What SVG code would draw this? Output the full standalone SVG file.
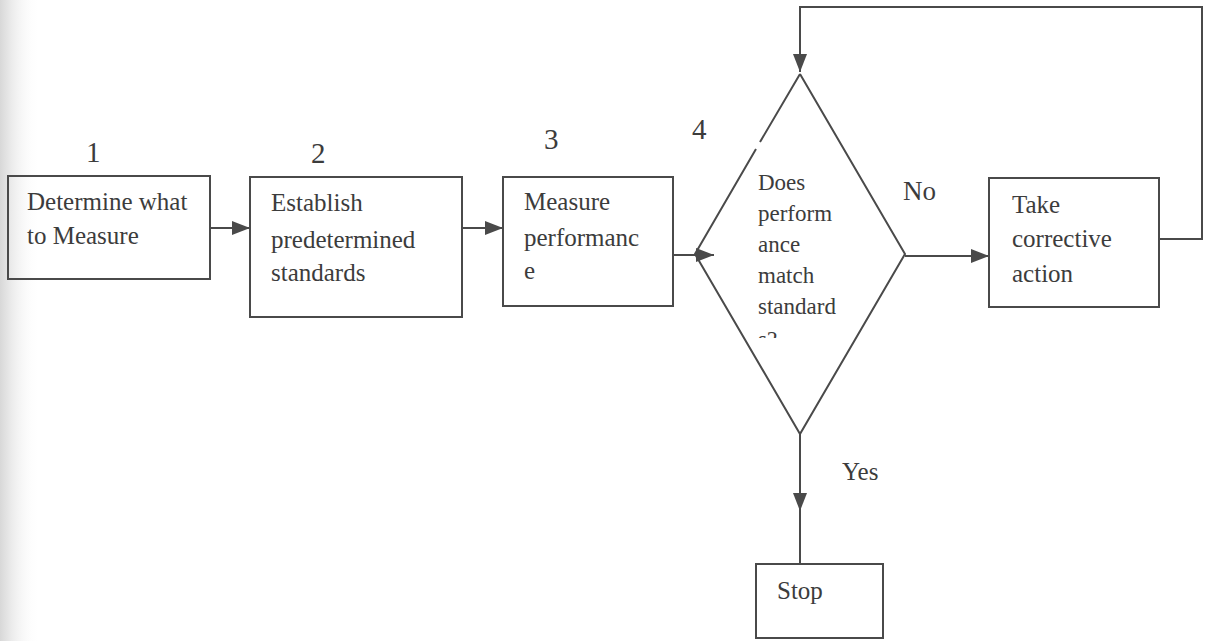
<svg xmlns="http://www.w3.org/2000/svg" width="1208" height="641" viewBox="0 0 1208 641">
<style>
.box{fill:none;stroke:#4a4a4a;stroke-width:2}
.ln{fill:none;stroke:#4a4a4a;stroke-width:2}
.t{font-family:"Liberation Serif","Times New Roman",serif;font-size:25px;fill:#3c3c3c}
.s{font-family:"Liberation Serif","Times New Roman",serif;font-size:23px;fill:#3c3c3c}
.n{font-family:"Liberation Serif","Times New Roman",serif;font-size:29px;fill:#3c3c3c}
</style>
<defs>
<marker id="ahL" viewBox="0 0 10 10" refX="10" refY="5" markerWidth="18" markerHeight="14" markerUnits="userSpaceOnUse" orient="auto" preserveAspectRatio="none">
<path d="M0,0 L10,5 L0,10 z" fill="#4a4a4a"/>
</marker>
<linearGradient id="edge" x1="0" x2="1" y1="0" y2="0">
<stop offset="0" stop-color="#d8d8d8"/>
<stop offset="0.3" stop-color="#ececec"/>
<stop offset="1" stop-color="#ffffff" stop-opacity="0"/>
</linearGradient>
<clipPath id="dclip"><rect x="740" y="100" width="120" height="238"/></clipPath>
</defs>
<rect width="1208" height="641" fill="#ffffff"/>
<rect width="40" height="641" fill="url(#edge)"/>

<g id="labels">
<text class="n" x="86" y="162">1</text>
<text class="n" x="311" y="163">2</text>
<text class="n" x="544" y="149">3</text>
<text class="n" x="692" y="139">4</text>
<text class="t" x="903" y="200" style="font-size:27px">No</text>
<text class="t" x="842" y="480">Yes</text>
</g>

<g id="connectors">
<line class="ln" x1="210" y1="228" x2="250" y2="228" marker-end="url(#ahL)"/>
<line class="ln" x1="462" y1="228" x2="503" y2="228" marker-end="url(#ahL)"/>
<line class="ln" x1="673" y1="255" x2="714" y2="255" marker-end="url(#ahL)"/>
<line class="ln" x1="905" y1="256" x2="989" y2="256" marker-end="url(#ahL)"/>
<path class="ln" d="M1159,239 H1202 V7 H800 V72" marker-end="url(#ahL)"/>
<line class="ln" x1="800" y1="434" x2="800" y2="511" marker-end="url(#ahL)"/>
<line class="ln" x1="800" y1="505" x2="800" y2="564"/>
</g>

<g id="n1">
<rect class="box" x="8" y="176" width="202" height="103"/>
<text class="t" x="27" y="210">Determine what</text>
<text class="t" x="27" y="244">to Measure</text>
</g>

<g id="n2">
<rect class="box" x="250" y="177" width="212" height="140"/>
<text class="t" x="271" y="211">Establish</text>
<text class="t" x="271" y="248">predetermined</text>
<text class="t" x="271" y="281">standards</text>
</g>

<g id="n3">
<rect class="box" x="503" y="177" width="170" height="129"/>
<text class="t" x="524" y="210">Measure</text>
<text class="t" x="524" y="246">performanc</text>
<text class="t" x="524" y="279">e</text>
</g>

<g id="n4">
<path class="box" d="M800,74 L905,254 L800,434 L695,254 L756,149 M760,142 L800,74"/>
<text class="s" x="758" y="190">Does</text>
<text class="s" x="758" y="221">perform</text>
<text class="s" x="758" y="252">ance</text>
<text class="s" x="758" y="283">match</text>
<text class="s" x="758" y="314">standard</text>
<text class="s" x="758" y="347" clip-path="url(#dclip)">s?</text>
</g>

<g id="n5">
<rect class="box" x="989" y="178" width="170" height="129"/>
<text class="t" x="1012" y="213">Take</text>
<text class="t" x="1012" y="247">corrective</text>
<text class="t" x="1012" y="282">action</text>
</g>

<g id="n6">
<rect class="box" x="756" y="564" width="127" height="74"/>
<text class="t" x="777" y="599">Stop</text>
</g>
</svg>
